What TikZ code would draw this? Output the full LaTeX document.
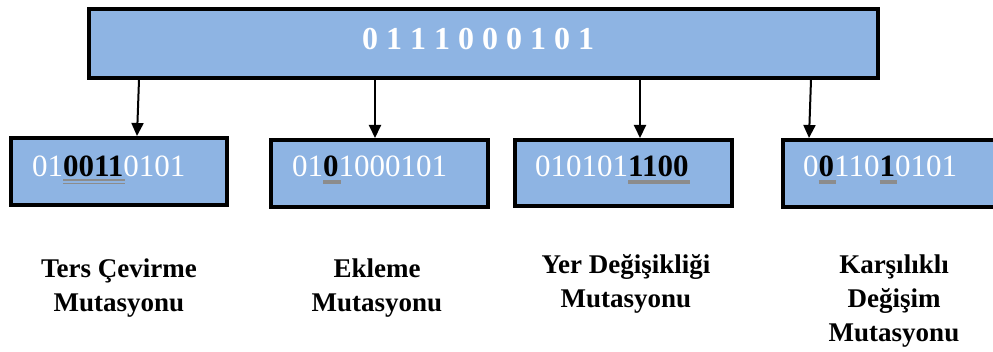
\documentclass[tikz,border=0pt]{standalone}
\usepackage{fontspec}
\setmainfont{Liberation Serif}
\usetikzlibrary{arrows.meta}
\definecolor{boxblue}{HTML}{8EB4E3}
\definecolor{ulgray}{HTML}{8C8C8C}

% bold black bit over a thick grey bar
\newsavebox\bitbox
\newcommand\barbit[1]{\sbox\bitbox{\color{black}\bfseries #1}%
  \rlap{\textcolor{ulgray}{\rule[-7pt]{\dimexpr\wd\bitbox+2pt\relax}{3.6pt}}}%
  \usebox\bitbox}
% bold black bits over a double grey line
\newcommand\dblbit[1]{\sbox\bitbox{\color{black}\bfseries #1}%
  \rlap{\textcolor{ulgray}{\rule[-3.8pt]{\dimexpr\wd\bitbox+2pt\relax}{1.3pt}}}%
  \rlap{\textcolor{ulgray}{\rule[-7.2pt]{\dimexpr\wd\bitbox+2pt\relax}{1.3pt}}}%
  \usebox\bitbox}

\tikzset{
  topbox/.style={draw=black, line width=3.5pt, fill=boxblue, inner sep=0pt},
  chrombox/.style={draw=black, line width=4pt, fill=boxblue, inner sep=0pt,
                   minimum height=67pt},
  bits/.style={inner sep=0pt, anchor=base west, text=white,
               font=\fontsize{31}{31}\selectfont},
  label/.style={inner sep=0pt, anchor=north, align=center,
                font=\fontsize{27}{34}\selectfont\bfseries},
  link/.style={line width=2pt, -{Triangle[length=13pt,width=12pt]}}
}

\begin{document}
\begin{tikzpicture}[x=1pt,y=-1pt]
\useasboundingbox (0,0) rectangle (993,352);

% parent chromosome
\node[topbox, minimum width=789pt, minimum height=69pt] (top) at (483.5,43.5) {};
\node[inner sep=0pt, anchor=base west, text=white,
      font=\fontsize{32}{32}\selectfont\bfseries] (toptxt) at (362,50)
      {0 1 1 1 0 0 0 1 0 1};

% mutated chromosomes
\node[chrombox, minimum width=216pt] (b1) at (119,171.5) {};
\node[chrombox, minimum width=217pt] (b2) at (379.5,173.5) {};
\node[chrombox, minimum width=217pt, minimum height=66pt] (b3) at (623.5,173) {};
\node[chrombox, minimum width=212pt] (b4) at (889,173.5) {};

\node[bits] (t1) at (32,177)  {01\dblbit{0011}0101};
\node[bits] (t2) at (292,177) {01\barbit{0}1000101};
\node[bits] (t3) at (535,177) {010101\barbit{1100}};
\node[bits] (t4) at (803,177) {0\barbit{0}110\barbit{1}0101};

% arrows from parent to each mutation
\coordinate (x1a) at (139,0);
\coordinate (x1b) at (137,0);
\coordinate (x2) at (375,0);
\coordinate (x3) at (640,0);
\coordinate (x4a) at (811,0);
\coordinate (x4b) at (809,0);
\draw[link] (top.south -| x1a) -- (b1.north -| x1b);
\draw[link] (top.south -| x2) -- (b2.north -| x2);
\draw[link] (top.south -| x3) -- (b3.north -| x3);
\draw[link] (top.south -| x4a) -- (b4.north -| x4b);

% mutation names
\node[label] (l1) at (119,259) {Ters Çevirme\\Mutasyonu};
\node[label] (l2) at (377,259) {Ekleme\\Mutasyonu};
\node[label] (l3) at (626,254) {Yer Değişikliği\\Mutasyonu};
\node[label] (l4) at (894,255) {Karşılıklı\\Değişim\\Mutasyonu};
\end{tikzpicture}
\end{document}
